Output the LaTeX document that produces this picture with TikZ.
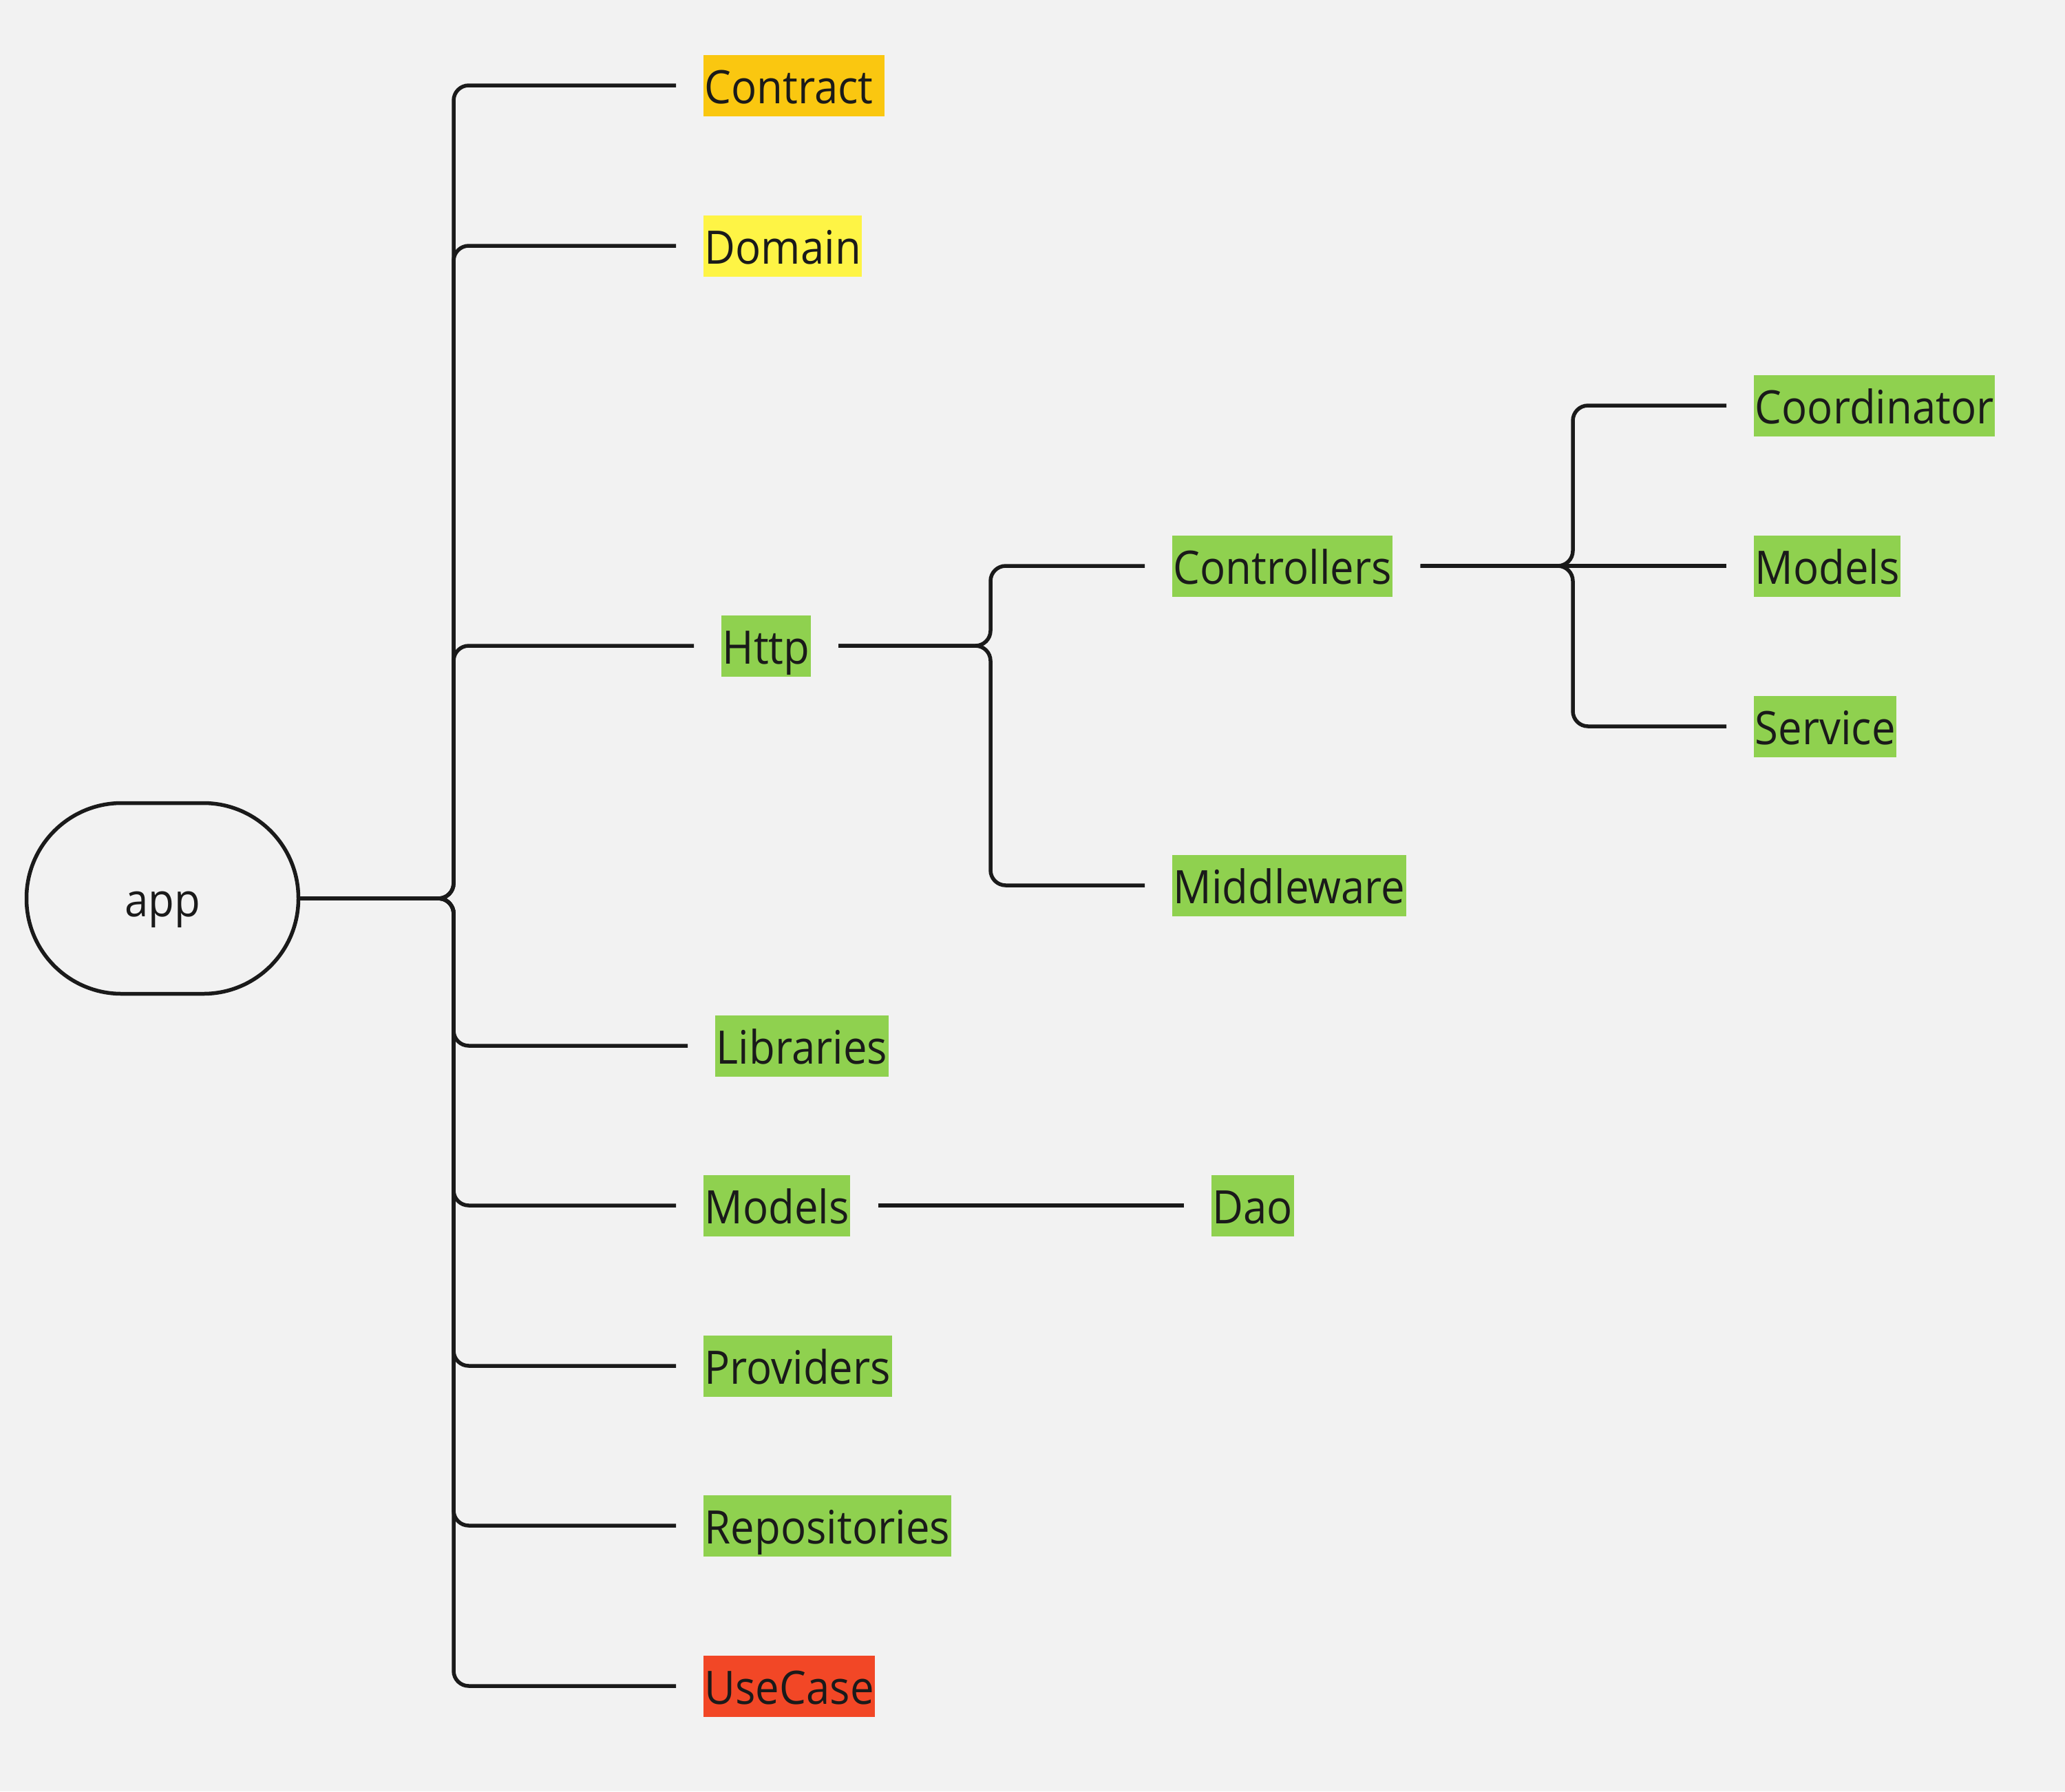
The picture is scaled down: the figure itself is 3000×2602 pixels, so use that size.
\documentclass[tikz,border=0pt]{standalone}
\usepackage{fontspec}
\setmainfont{Open Sans}[FakeStretch=0.92]
\definecolor{bg}{HTML}{F2F2F2}
\definecolor{ink}{HTML}{1A1A1A}
\definecolor{corange}{HTML}{FAC710}
\definecolor{cyellow}{HTML}{FEF445}
\definecolor{cgreen}{HTML}{8FD14F}
\definecolor{cred}{HTML}{F24726}
\tikzset{
  conn/.style={draw=ink, line width=5.5pt, rounded corners=22pt},
  tag/.style={anchor=west, fill=#1, inner xsep=1.5pt, inner ysep=0pt,
    text height=71pt, text depth=18pt, text=ink,
    font=\fontsize{67}{80}\selectfont},
  rootnode/.style={draw=ink, line width=5.5pt, rounded corners=138pt,
    minimum width=395pt, minimum height=277pt, inner sep=0pt,
    text height=71pt, text depth=18pt, text=ink,
    font=\fontsize{67}{80}\selectfont},
}
\begin{document}
\begin{tikzpicture}[x=1pt,y=-1pt]
\fill[bg] (0,0) rectangle (3000,2602);
\useasboundingbox (0,0) rectangle (3000,2602);

\node[rootnode] (app) at (236,1305) {app};

\node[tag=corange] (contract) at (1022,124) {Contract\hspace*{15pt}};
\node[tag=cyellow] (domain) at (1022,357) {Domain};
\node[tag=cgreen] (http) at (1048,938) {Http};
\node[tag=cgreen] (libraries) at (1039,1519) {Libraries};
\node[tag=cgreen] (models) at (1022,1751) {Models};
\node[tag=cgreen] (providers) at (1022,1984) {Providers};
\node[tag=cgreen] (repositories) at (1022,2216) {Repositories};
\node[tag=cred] (usecase) at (1022,2449) {UseCase};

\node[tag=cgreen] (controllers) at (1703,822) {Controllers};
\node[tag=cgreen] (middleware) at (1703,1286) {Middleware};

\node[tag=cgreen] (coordinator) at (2548,589) {Coordinator};
\node[tag=cgreen] (models2) at (2548,822) {Models};
\node[tag=cgreen] (service) at (2548,1055) {Service};

\node[tag=cgreen] (dao) at (1760,1751) {Dao};

% root branches
\foreach \n in {contract,domain,http,libraries,models,providers,repositories,usecase}{
  \draw[conn] (app.east) -- (659,1305) -- (659,0 |- \n.west) -- ([xshift=-40pt]\n.west);
}
% http branches
\foreach \n in {controllers,middleware}{
  \draw[conn] ([xshift=40pt]http.east) -- (1439,938) -- (1439,0 |- \n.west) -- ([xshift=-40pt]\n.west);
}
% controllers branches
\draw[conn] ([xshift=40pt]controllers.east) -- (2285,822) -- (2285,589) -- ([xshift=-40pt]coordinator.west);
\draw[conn] ([xshift=40pt]controllers.east) -- (2285,822) -- (2285,1055) -- ([xshift=-40pt]service.west);
\draw[conn] ([xshift=40pt]controllers.east) -- ([xshift=-40pt]models2.west);
% models -> dao
\draw[conn] ([xshift=40pt]models.east) -- ([xshift=-40pt]dao.west);
\end{tikzpicture}
\end{document}
